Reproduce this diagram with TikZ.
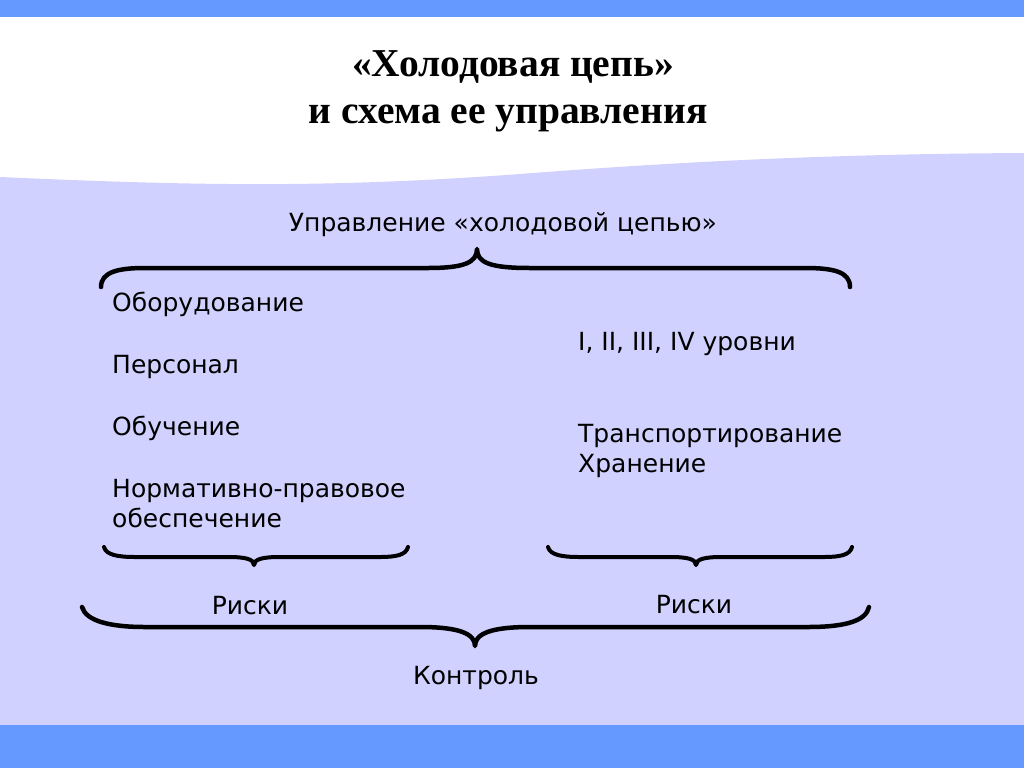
\documentclass[tikz,border=0pt]{standalone}
\usepackage{fontspec}
\setmainfont{DejaVu Sans}
\newfontfamily\titlefont{Liberation Serif}
\definecolor{bandblue}{HTML}{6699FF}
\definecolor{lavender}{HTML}{D1D1FF}
\tikzset{
	bracket/.style={line width=4.5pt,line cap=round,line join=round},
	item/.style={anchor=base west,inner sep=0pt,font=\fontsize{25}{30}\selectfont},
	label/.style={anchor=base,inner sep=0pt,font=\fontsize{25}{30}\selectfont},
	headline/.style={anchor=base,inner sep=0pt,font=\titlefont\bfseries\fontsize{39.5}{44}\selectfont}
}
\begin{document}
\begin{tikzpicture}[x=1pt,y=-1pt]
	\useasboundingbox (0,0) rectangle (1024,768);
	\fill[white] (0,0) rectangle (1024,768);
	\fill[lavender] (0,177) .. controls (200,186) and (330,188) .. (520,174) .. controls (700,160) and (850,154) .. (1024,153) -- (1024,725) -- (0,725) -- cycle;
	\fill[bandblue] (0,0) rectangle (1024,17);
	\fill[bandblue] (0,725) rectangle (1024,768);

	\node[headline] (title1) at (513,77) {«Холодовая цепь»};
	\node[headline] (title2) at (508,123) {и схема ее управления};

	\node[label] (manage) at (503,231) {Управление «холодовой цепью»};

	\node[item] (equip) at (112,311) {Оборудование};
	\node[item] (staff) at (112,373) {Персонал};
	\node[item] (train) at (112,435) {Обучение};
	\node[item] (law1) at (112,497) {Нормативно-правовое};
	\node[item] (law2) at (112,527) {обеспечение};

	\node[item] (levels) at (578,350) {I, II, III, IV уровни};
	\node[item] (transport) at (578,442) {Транспортирование};
	\node[item] (storage) at (578,472) {Хранение};

	\node[label] (riskl) at (250,614) {Риски};
	\node[label] (riskr) at (694,613) {Риски};
	\node[label] (control) at (476,684) {Контроль};

	% braces
	\draw[bracket] (101,287) .. controls (101,272) and (118,268) .. (145,268) -- (428,268) .. controls (463,268) and (477,263) .. (477,249) .. controls (477,263) and (491,268) .. (530,268) -- (805,268) .. controls (834,268) and (850,272) .. (850,287);
	\draw[bracket,line width=4pt] (104,547) .. controls (106,555) and (118,557) .. (135,557) -- (228,557) .. controls (245,557) and (254,559) .. (254,565) .. controls (254,559) and (263,557) .. (280,557) -- (380,557) .. controls (396,557) and (406,555) .. (408,547);
	\draw[bracket,line width=4pt] (548,547) .. controls (550,555) and (562,557) .. (579,557) -- (670,557) .. controls (687,557) and (696,559) .. (696,565) .. controls (696,559) and (705,557) .. (722,557) -- (824,557) .. controls (840,557) and (850,555) .. (852,547);
	\draw[bracket] (82,607) .. controls (86,621) and (110,627) .. (145,627) -- (420,627) .. controls (460,627) and (475,634) .. (475,646) .. controls (475,634) and (490,627) .. (530,627) -- (808,627) .. controls (845,627) and (866,621) .. (869,607);
\end{tikzpicture}
\end{document}
